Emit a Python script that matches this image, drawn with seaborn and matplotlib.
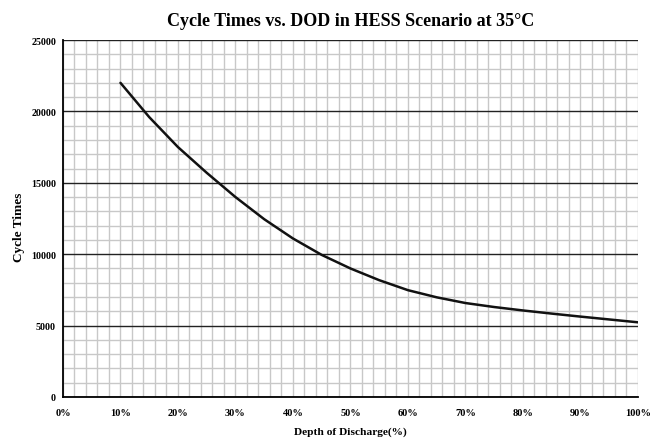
import matplotlib
matplotlib.use("Agg")
import matplotlib.pyplot as plt
from matplotlib.ticker import MultipleLocator, PercentFormatter
import pandas as pd
import seaborn as sns

# values
dod = [10, 15, 20, 25, 30, 35, 40, 45, 50, 55, 60, 65, 70, 75, 80, 85, 90, 95, 100]
cycles = [22000, 19600, 17500, 15700, 14000, 12450, 11100, 9950, 9000, 8180,
          7480, 6980, 6580, 6300, 6060, 5840, 5630, 5430, 5230]

df = pd.DataFrame({"DOD": dod, "Cycles": cycles})

sns.set_style("white")
plt.rcParams["font.family"] = ["Liberation Serif", "DejaVu Serif"]
plt.rcParams["text.color"] = "black"
plt.rcParams["axes.labelcolor"] = "black"
plt.rcParams["xtick.color"] = "black"
plt.rcParams["ytick.color"] = "black"

fig = plt.figure(figsize=(6.58, 4.39), dpi=100)
ax = fig.add_axes([0.0957, 0.0934, 0.8739, 0.8132])

sns.lineplot(data=df, x="DOD", y="Cycles", color="#111111", linewidth=1.8, ax=ax)

ax.set_xlim(0, 100)
ax.set_ylim(0, 25000)
ax.xaxis.set_major_locator(MultipleLocator(10))
ax.xaxis.set_minor_locator(MultipleLocator(2))
ax.yaxis.set_major_locator(MultipleLocator(5000))
ax.yaxis.set_minor_locator(MultipleLocator(1000))
ax.xaxis.set_major_formatter(PercentFormatter(decimals=0))

ax.grid(which="minor", color="#c8c8c8", linewidth=1.0)
ax.grid(which="major", axis="x", color="#c8c8c8", linewidth=1.0)
ax.grid(which="major", axis="y", color="#222222", linewidth=1.0)
ax.set_axisbelow(True)

for s in ["left", "bottom"]:
    ax.spines[s].set_color("black")
    ax.spines[s].set_linewidth(1.3)
for s in ["top", "right"]:
    ax.spines[s].set_visible(False)

ax.tick_params(axis="x", which="major", direction="in", length=3, width=1, color="black", pad=8)
ax.tick_params(axis="x", which="minor", length=0)
ax.tick_params(axis="y", which="both", length=0, pad=5)
for lab in ax.get_xticklabels():
    lab.set_fontweight("bold")
    lab.set_fontsize(7.5)
for lab in ax.get_yticklabels():
    lab.set_fontweight("bold")
    lab.set_fontsize(7.2)

ax.set_title("Cycle Times vs. DOD in HESS Scenario at 35°C", fontsize=13, fontweight="bold", pad=11)
ax.set_xlabel("Depth of Discharge(%)", fontsize=8.2, fontweight="bold", labelpad=7)
ax.set_ylabel("Cycle Times", fontsize=9.5, fontweight="bold")
ax.yaxis.set_label_coords(-0.066, 0.478)

fig.savefig("out.png", dpi=100)
